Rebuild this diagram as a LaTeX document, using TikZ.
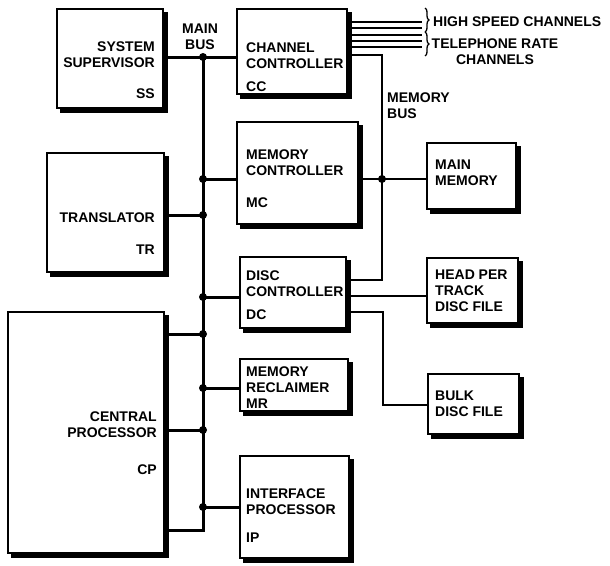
\documentclass[tikz,border=0pt]{standalone}
\usepackage{fontspec}
\setmainfont{Liberation Sans}
\usetikzlibrary{decorations.pathreplacing}

\begin{document}
\begin{tikzpicture}[x=1pt,y=-1pt,
  unitbox/.style={draw,line width=1.6pt,fill=white,inner sep=0pt},
  lbl/.style={font=\fontsize{14}{16}\selectfont\bfseries,inner sep=0pt},
  mainbus/.style={line width=3pt},
  membus/.style={line width=1.6pt},
  chan/.style={line width=1.3pt},
  junction/.style={circle,fill,inner sep=0pt,minimum size=8pt},
  chanbrace/.style={decorate,decoration={brace,amplitude=4pt},line width=1.3pt}
]
  \useasboundingbox (0,0) rectangle (610,565);
  % Units
  \node[unitbox,minimum width=106pt,minimum height=99pt] (ss) at (110,58.5) {};
  \node[unitbox,minimum width=110pt,minimum height=85pt] (cc) at (292,51.5) {};
  \node[unitbox,minimum width=121pt,minimum height=102pt] (mc) at (297.5,173) {};
  \node[unitbox,minimum width=117pt,minimum height=119pt] (tr) at (105.5,212.5) {};
  \node[unitbox,minimum width=106pt,minimum height=71pt] (dc) at (293,292.5) {};
  \node[unitbox,minimum width=156pt,minimum height=241pt] (cp) at (86,432.5) {};
  \node[unitbox,minimum width=108pt,minimum height=52pt] (mr) at (294,385) {};
  \node[unitbox,minimum width=109pt,minimum height=102pt] (ip) at (294.5,507) {};
  \node[unitbox,minimum width=89pt,minimum height=66pt] (mm) at (471.5,176) {};
  \node[unitbox,minimum width=91pt,minimum height=65pt] (hpt) at (472.5,290.5) {};
  \node[unitbox,minimum width=91pt,minimum height=60pt] (bulk) at (473.5,404) {};
  % Shadows
  \foreach \u in {ss,cc,mc,tr,dc,cp,mr,ip,mm,hpt,bulk}
    \fill ([yshift=-4pt]\u.north east) -- ([shift={(4pt,-4pt)}]\u.north east)
      -- ([shift={(4pt,-4pt)}]\u.south east) -- ([shift={(4pt,-4pt)}]\u.south west)
      -- ([xshift=4pt]\u.south west) -- (\u.south east) -- cycle;
  % Unit labels
  \node[lbl,align=right,anchor=east] (ss-name) at (155,55) {SYSTEM\\SUPERVISOR};
  \node[lbl,anchor=east] (ss-id) at (155,94) {SS};
  \node[lbl,align=left,anchor=west] (cc-name) at (246,55.5) {CHANNEL\\CONTROLLER};
  \node[lbl,anchor=west] (cc-id) at (246,87) {CC};
  \node[lbl,align=left,anchor=west] (mc-name) at (246,162.5) {MEMORY\\CONTROLLER};
  \node[lbl,anchor=west] (mc-id) at (246,203) {MC};
  \node[lbl,anchor=east] (tr-name) at (155,218) {TRANSLATOR};
  \node[lbl,anchor=east] (tr-id) at (155,250) {TR};
  \node[lbl,align=left,anchor=west] (dc-name) at (246,283.5) {DISC\\CONTROLLER};
  \node[lbl,anchor=west] (dc-id) at (246,315) {DC};
  \node[lbl,align=right,anchor=east] (cp-name) at (157,424.5) {CENTRAL\\PROCESSOR};
  \node[lbl,anchor=east] (cp-id) at (157,470) {CP};
  \node[lbl,align=left,anchor=west] (mr-name) at (246,388) {MEMORY\\RECLAIMER\\MR};
  \node[lbl,align=left,anchor=west] (ip-name) at (246,501.5) {INTERFACE\\PROCESSOR};
  \node[lbl,anchor=west] (ip-id) at (246,538) {IP};
  \node[lbl,align=left,anchor=west] (mm-name) at (435,172.5) {MAIN\\MEMORY};
  \node[lbl,align=left,anchor=west] (hpt-name) at (435,291) {HEAD PER\\TRACK\\DISC FILE};
  \node[lbl,align=left,anchor=west] (bulk-name) at (435,404) {BULK\\DISC FILE};
  % Bus labels
  \node[lbl,align=center] (mainbus-lbl) at (200,36.5) {MAIN\\BUS};
  \node[lbl,align=left,anchor=west] (membus-lbl) at (387,105.5) {MEMORY\\BUS};
  \node[lbl,anchor=west] (hs-lbl) at (433,22) {HIGH SPEED CHANNELS};
  \node[lbl,align=center] (tel-lbl) at (495,51.5) {TELEPHONE RATE\\CHANNELS};
  % Main bus
  \coordinate (b-ss) at (203,57);
  \coordinate (b-mc) at (203,179);
  \coordinate (b-tr) at (203,215);
  \coordinate (b-dc) at (203,297);
  \coordinate (b-cp1) at (203,334);
  \coordinate (b-mr) at (203,388);
  \coordinate (b-cp2) at (203,430);
  \coordinate (b-ip) at (203,507);
  \coordinate (b-end) at (203,530);
  \draw[mainbus] (b-ss) -- (b-end) -- (cp.east |- b-end);
  \draw[mainbus] (ss.east |- b-ss) -- (cc.west |- b-ss);
  \draw[mainbus] (b-mc) -- (mc.west |- b-mc);
  \draw[mainbus] (tr.east |- b-tr) -- (b-tr);
  \draw[mainbus] (b-dc) -- (dc.west |- b-dc);
  \draw[mainbus] (cp.east |- b-cp1) -- (b-cp1);
  \draw[mainbus] (b-mr) -- (mr.west |- b-mr);
  \draw[mainbus] (cp.east |- b-cp2) -- (b-cp2);
  \draw[mainbus] (b-ip) -- (ip.west |- b-ip);
  \foreach \j in {b-ss,b-mc,b-tr,b-dc,b-cp1,b-mr,b-cp2,b-ip}
    \node[junction] (j-\j) at (\j) {};
  % Memory bus
  \coordinate (m-top) at (382,55);
  \coordinate (m-mc) at (382,179);
  \coordinate (m-dc) at (382,280);
  \draw[membus] (cc.east |- m-top) -- (m-top) -- (m-dc) -- (dc.east |- m-dc);
  \draw[membus] (mc.east |- m-mc) -- (mm.west |- m-mc);
  \node[junction] (j-mm) at (m-mc) {};
  % Disc files
  \coordinate (h-dc) at (400,296);
  \draw[membus] (dc.east |- h-dc) -- (hpt.west |- h-dc);
  \coordinate (k-top) at (383,312);
  \coordinate (k-bot) at (383,405);
  \draw[membus] (dc.east |- k-top) -- (k-top) -- (k-bot) -- (bulk.west |- k-bot);
  % Channels
  \foreach \y in {22,28,35,41,47}
    \draw[chan] (cc.east |- 0,\y) -- (422,\y);
  \draw[chanbrace] (425,8) -- (425,32);
  \draw[chanbrace] (425,32) -- (425,56);
\end{tikzpicture}
\end{document}
